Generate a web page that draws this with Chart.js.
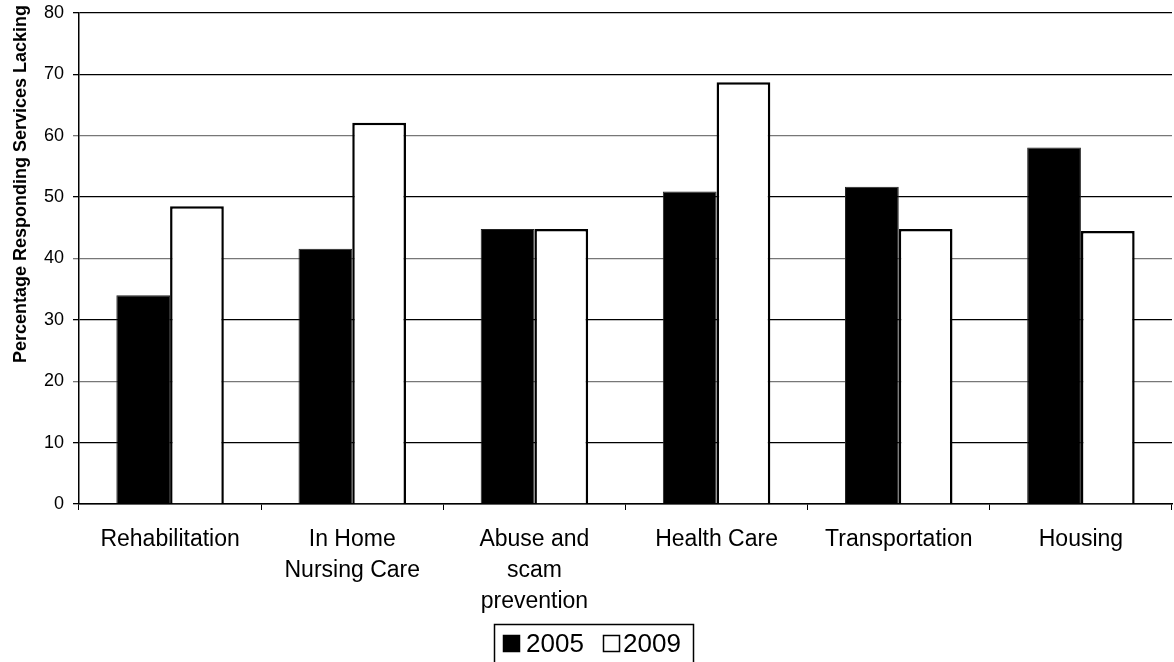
<!DOCTYPE html>
<html><head><meta charset="utf-8">
<script src="https://cdn.jsdelivr.net/npm/chart.js@4/dist/chart.umd.min.js"></script>
<style>html,body{margin:0;padding:0;background:#fff}#wrap{width:1174px;height:662px}</style>
</head><body><div id="wrap"><canvas id="c" width="1174" height="662"></canvas></div>
<script>
const categories = [["Rehabilitation"],["In Home","Nursing Care"],["Abuse and","scam","prevention"],["Health Care"],["Transportation"],["Housing"]];
const seriesNames = ["2005", "2009"];
const series2005 = [34.0, 41.6, 44.8, 50.9, 51.7, 58.1];
const series2009 = [48.5, 62.1, 44.8, 68.7, 44.8, 44.5];
const yTicks = [0,10,20,30,40,50,60,70,80];
const yTitle = "Percentage Responding Services Lacking";
const FONT = 'Liberation Sans, Arial, sans-serif';

const extras = {
  id:'extras',
  afterDraw(chart){
    const ctx = chart.ctx; ctx.save();
    // y-axis title
    ctx.translate(21, 184); ctx.rotate(-Math.PI/2);
    ctx.font = 'bold 18px ' + FONT; ctx.fillStyle='#000';
    ctx.textAlign='center'; ctx.textBaseline='middle';
    ctx.fillText(yTitle, 0, 0);
    ctx.restore();
    // legend
    ctx.save();
    ctx.strokeStyle='#000'; ctx.lineWidth=1.5;
    ctx.beginPath();
    ctx.moveTo(494.5, 670); ctx.lineTo(494.5, 624.5); ctx.lineTo(693.5, 624.5); ctx.lineTo(693.5, 670);
    ctx.stroke();
    const ds = chart.data.datasets;
    const items = [{bx:503, tx:526},{bx:603, tx:623}];
    ctx.font = '26px ' + FONT; ctx.textBaseline='middle'; ctx.textAlign='left';
    items.forEach((it,i)=>{
      ctx.fillStyle = ds[i].backgroundColor;
      ctx.fillRect(it.bx, 635, 17, 17);
      ctx.lineWidth = 1.5; ctx.strokeStyle='#000';
      ctx.strokeRect(it.bx+0.5, 635.5, 16, 16);
      ctx.fillStyle='#000';
      ctx.fillText(ds[i].label, it.tx, 645);
    });
    ctx.restore();
  }
};

new Chart(document.getElementById('c'), {
  type:'bar',
  data:{labels:categories, datasets:[
    {label:seriesNames[0], data:series2005, backgroundColor:'#000', borderColor:'#222', borderWidth:1},
    {label:seriesNames[1], data:series2009, backgroundColor:'#fff', borderColor:'#000', borderWidth:2.5}
  ]},
  options:{
    responsive:false, animation:false,
    layout:{padding:{top:13,right:2,left:0,bottom:38}},
    categoryPercentage:0.59, barPercentage:1.0,
    plugins:{ tooltip:{enabled:false}, legend:{display:false} },
    scales:{
      x:{
        grid:{display:true, offset:true, drawOnChartArea:false, color:'#000', tickLength:6},
        border:{color:'#000', width:1.5},
        ticks:{color:'#000', font:{family:FONT, size:23, lineHeight:1.35}, maxRotation:0, autoSkip:false, padding:14},
        afterFit(s){ s.height = 120; }
      },
      y:{
        min:0, max:80,
        afterBuildTicks(s){ s.ticks = yTicks.map(v=>({value:v})); },
        grid:{color:(c)=> (c.tick && c.tick.value%20===0 && c.tick.value!==0 && c.tick.value!==80) ? '#777' : '#000', lineWidth:1.3, tickLength:6},
        border:{color:'#000', width:1.5},
        ticks:{color:'#000', font:{family:FONT, size:18}, padding:9},
        afterFit(s){ s.width = 79; s.paddingTop = 0; s.paddingBottom = 0; }
      }
    }
  },
  plugins:[extras]
});
</script></body></html>
